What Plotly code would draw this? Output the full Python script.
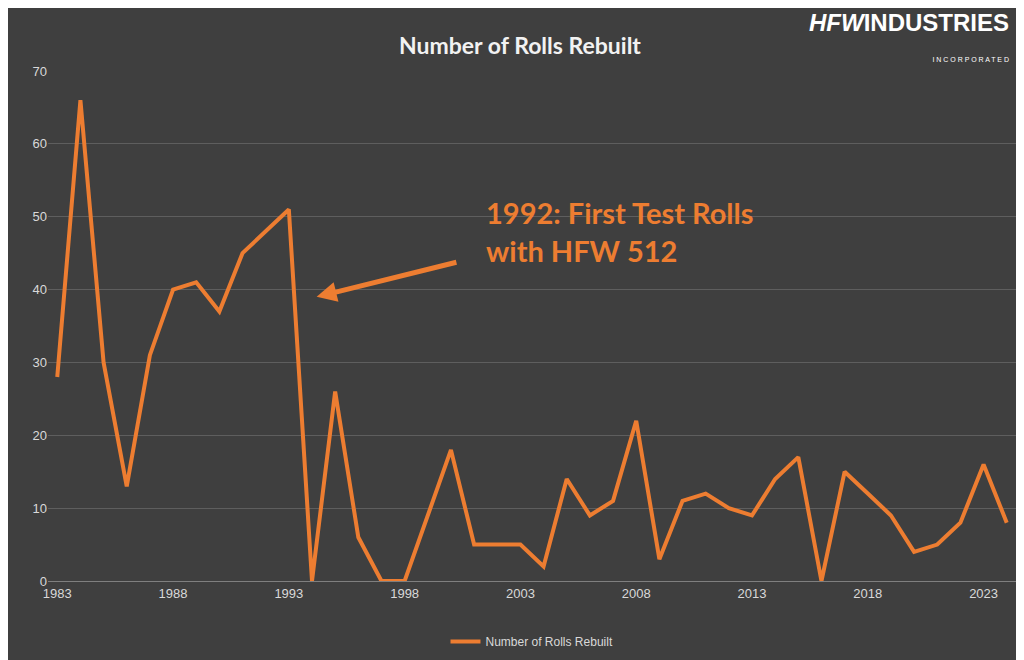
import plotly.graph_objects as go

years = list(range(1983, 2025))
rolls = [28, 66, 30, 13, 31, 40, 41, 37, 45, 48, 51, 0, 26, 6, 0, 0, 9, 18, 5, 5, 5, 2,
         14, 9, 11, 22, 3, 11, 12, 10, 9, 14, 17, 0, 15, 12, 9, 4, 5, 8, 16, 8]
tick_years = [1983, 1988, 1993, 1998, 2003, 2008, 2013, 2018, 2023]

fig = go.Figure()
fig.add_trace(go.Scatter(x=years, y=rolls, mode="lines", name="Number of Rolls Rebuilt",
                         line=dict(color="#ED7D31", width=4)))
fig.add_annotation(x=1994.2, y=39, ax=2000.3, ay=43.8, axref="x", ayref="y",
                   xref="x", yref="y", showarrow=True, arrowhead=2, arrowsize=0.8,
                   arrowwidth=5, arrowcolor="#ED7D31", text="")
fig.add_annotation(xref="paper", yref="paper", x=0.45, y=0.76, xanchor="left", yanchor="top",
                   showarrow=False, align="left",
                   text="<b>1992: First Test Rolls<br>with HFW 512</b>",
                   font=dict(family="Lato, Arial", size=29, color="#ED7D31"))
fig.add_annotation(xref="paper", yref="paper", x=0.995, y=1.125, xanchor="right", yanchor="top",
                   showarrow=False, align="right",
                   text="<b><i>HFW</i>INDUSTRIES</b><br><span style='font-size:7px'>I N C O R P O R A T E D</span>",
                   font=dict(family="Liberation Sans Narrow, Arial", size=24, color="white"))
fig.update_layout(
    width=1024, height=660,
    paper_bgcolor="#3f3f3f", plot_bgcolor="rgba(0,0,0,0)",
    title=dict(text="<b>Number of Rolls Rebuilt</b>", x=0.5, xanchor="center", y=0.955,
               font=dict(family="Lato, Arial", size=23, color="#f2f2f2")),
    margin=dict(l=40, r=16, t=63, b=76),
    xaxis=dict(range=[1982.6, 2024.4], tickvals=tick_years, showgrid=False, zeroline=False,
               tickfont=dict(color="#d9d9d9", size=13, family="Liberation Sans"),
               showline=True, linecolor="#7f7f7f"),
    yaxis=dict(range=[0, 70], dtick=10, gridcolor="#5e5e5e", zeroline=False,
               tickfont=dict(color="#d9d9d9", size=13, family="Liberation Sans")),
    legend=dict(orientation="h", x=0.5, xanchor="center", y=-0.09, yanchor="top",
                font=dict(color="#d9d9d9", size=12, family="Liberation Sans")),
    showlegend=True,
)
fig.write_html("out.html")
